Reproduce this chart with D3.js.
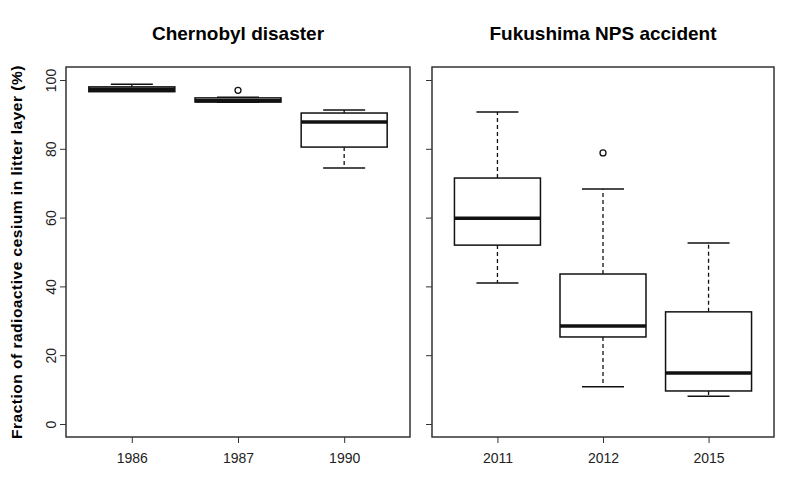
<!DOCTYPE html>
<html><head><meta charset="utf-8">
<script src="https://cdn.jsdelivr.net/npm/d3@7"></script>
<style>body{margin:0;background:#fff}</style>
</head><body>
<svg id="chart" width="800" height="500"></svg>
<script>
var panelTitles = ['Chernobyl disaster', 'Fukushima NPS accident'];
var chernobylYears = ['1986', '1987', '1990'];
var chernobylStats = [
  {min: 97.0, q1: 96.6, med: 97.3, q3: 98.0, max: 98.8, out: []},
  {min: 93.5, q1: 93.6, med: 94.0, q3: 94.8, max: 95.0, out: [97.0]},
  {min: 74.4, q1: 80.5, med: 87.8, q3: 90.4, max: 91.3, out: []}
];
var fukushimaYears = ['2011', '2012', '2015'];
var fukushimaStats = [
  {min: 41.0, q1: 52.0, med: 59.8, q3: 71.5, max: 90.7, out: []},
  {min: 10.8, q1: 25.3, med: 28.5, q3: 43.6, max: 68.3, out: [78.8]},
  {min: 8.1, q1: 9.6, med: 14.8, q3: 32.6, max: 52.6, out: []}
];
var yTicks = [0, 20, 40, 60, 80, 100];

var svg = d3.select('#chart');
var frameTop = 67, frameBottom = 437;
var yScale = d3.scaleLinear().domain([0, 100]).range([424, 80]);

var panels = [
  {x0: 66, x1: 410, cats: chernobylYears, stats: chernobylStats, labels: true},
  {x0: 432, x1: 774, cats: fukushimaYears, stats: fukushimaStats, labels: false}
];

panels.forEach(function (p, i) {
  var xScale = d3.scalePoint().domain(p.cats).range([p.x0, p.x1]).padding(0.62);
  var g = svg.append('g');
  var bw = 86;

  g.append('rect').attr('x', p.x0).attr('y', frameTop).attr('width', p.x1 - p.x0)
    .attr('height', frameBottom - frameTop).attr('fill', 'none').attr('stroke', '#333').attr('stroke-width', 1.5);

  svg.append('text').attr('x', (p.x0 + p.x1) / 2).attr('y', 40).attr('text-anchor', 'middle')
    .attr('font-family', 'Liberation Sans, Arial, sans-serif').attr('font-weight', 'bold')
    .attr('font-size', 19).text(panelTitles[i]);

  var xAxis = d3.axisBottom(xScale).tickSize(6).tickSizeOuter(0);
  var ax = g.append('g').attr('transform', 'translate(0,' + frameBottom + ')').call(xAxis);
  ax.select('.domain').remove();
  ax.selectAll('line').attr('stroke', '#333');
  ax.selectAll('text').attr('font-family', 'Liberation Sans Narrow, Arial Narrow, sans-serif')
    .attr('font-size', 14).attr('fill', '#222').attr('dy', '1.2em');

  var yAxis = d3.axisLeft(yScale).tickValues(yTicks).tickSize(6).tickSizeOuter(0);
  var ay = g.append('g').attr('transform', 'translate(' + p.x0 + ',0)').call(yAxis);
  ay.select('.domain').remove();
  ay.selectAll('line').attr('stroke', '#333');
  if (p.labels) {
    ay.selectAll('text').attr('font-family', 'Liberation Sans, Arial, sans-serif').attr('font-size', 14)
      .attr('fill', '#222').attr('x', 0).attr('y', 0).attr('dy', 0).attr('text-anchor', 'middle')
      .attr('transform', 'translate(-10,0) rotate(-90)');
  } else {
    ay.selectAll('text').remove();
  }

  p.stats.forEach(function (s, j) {
    var cx = xScale(p.cats[j]);
    var b = g.append('g').attr('stroke', '#111').attr('fill', 'none');
    b.append('line').attr('x1', cx).attr('x2', cx).attr('y1', yScale(s.q3)).attr('y2', yScale(s.max))
      .attr('stroke-dasharray', '4,3').attr('stroke-width', 1.3);
    b.append('line').attr('x1', cx).attr('x2', cx).attr('y1', yScale(s.q1)).attr('y2', yScale(s.min))
      .attr('stroke-dasharray', '4,3').attr('stroke-width', 1.3);
    [s.min, s.max].forEach(function (v) {
      b.append('line').attr('x1', cx - 21).attr('x2', cx + 21).attr('y1', yScale(v)).attr('y2', yScale(v))
        .attr('stroke-width', 1.5);
    });
    b.append('rect').attr('x', cx - bw / 2).attr('width', bw).attr('y', yScale(s.q3))
      .attr('height', yScale(s.q1) - yScale(s.q3)).attr('fill', '#fff').attr('stroke-width', 1.5);
    b.append('line').attr('x1', cx - bw / 2).attr('x2', cx + bw / 2).attr('y1', yScale(s.med))
      .attr('y2', yScale(s.med)).attr('stroke-width', 3.5);
    s.out.forEach(function (v) {
      b.append('circle').attr('cx', cx).attr('cy', yScale(v)).attr('r', 3).attr('stroke-width', 1.3);
    });
  });
});

svg.append('text').attr('transform', 'translate(22,252) rotate(-90)').attr('text-anchor', 'middle')
  .attr('font-family', 'Liberation Sans, Arial, sans-serif').attr('font-weight', 'bold')
  .attr('font-size', 15.5).attr('letter-spacing', 0.5).text('Fraction of radioactive cesium in litter layer (%)');
</script>
</body></html>
